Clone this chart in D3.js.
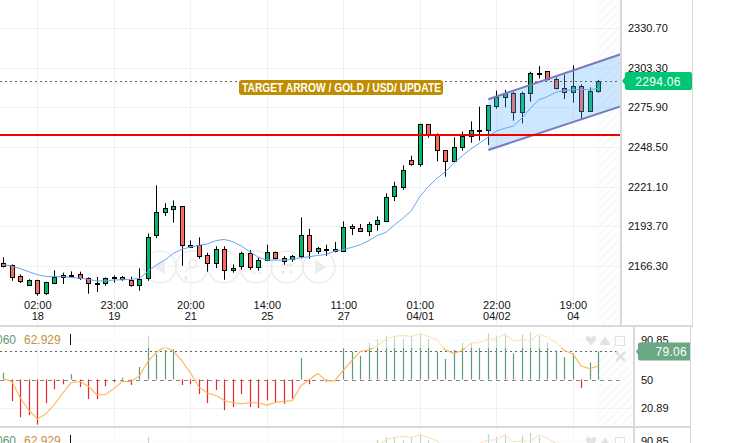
<!DOCTYPE html>
<html>
<head>
<meta charset="utf-8">
<style>
html, body { margin: 0; padding: 0; background: #fff; overflow: hidden; }
svg { display: block; }
text { font-family: "Liberation Sans", Arial, sans-serif; }
</style>
<script src="https://cdn.jsdelivr.net/npm/d3@7/dist/d3.min.js"></script>
</head>
<body>
<svg id="chart" width="742" height="443"></svg>
<script>
// candles
var opens = [2168.6,2166.7,2159.1,2152.7,2156.4,2147.2,2154.5,2158.4,2160.3,2160.5,2157.8,2154.5,2154.1,2157.5,2158.4,2156.8,2153.4,2157.5,2187.2,2203.1,2205.9,2207.5,2179.9,2181.0,2173.6,2168.1,2177.8,2163.3,2166.0,2175.0,2165.3,2170.2,2175.7,2172.0,2170.6,2172.7,2187.5,2176.2,2177.8,2176.6,2176.6,2193.7,2192.3,2190.0,2195.1,2197.6,2214.4,2220.4,2239.3,2236.3,2264.1,2257.5,2246.2,2238.4,2248.3,2255.9,2260.2,2260.0,2276.3,2282.8,2285.6,2272.4,2285.6,2299.6,2300.8,2295.2,2289.0,2286.3,2290.4,2272.9,2287.4];
var highs = [2172.3,2167.4,2160.5,2157.1,2156.8,2155.4,2163.3,2161.7,2162.6,2162.4,2158.4,2158.7,2158.4,2159.8,2159.4,2158.9,2164.7,2188.8,2222.0,2209.6,2211.6,2207.7,2184.0,2186.1,2175.5,2179.9,2179.9,2167.4,2176.2,2177.3,2172.3,2181.0,2176.2,2173.2,2173.9,2199.9,2192.1,2179.4,2181.0,2182.9,2197.1,2195.1,2195.3,2196.7,2200.6,2216.5,2224.5,2235.8,2242.5,2264.6,2264.4,2257.9,2246.4,2255.2,2259.1,2266.2,2276.3,2277.5,2287.4,2287.9,2286.7,2286.7,2300.5,2304.4,2301.0,2296.6,2298.5,2304.9,2291.8,2289.7,2294.8];
var lows = [2165.3,2156.1,2154.5,2152.5,2145.8,2146.2,2153.8,2153.8,2158.4,2156.6,2147.2,2148.3,2152.7,2154.8,2156.1,2152.0,2149.2,2156.1,2185.6,2200.8,2196.2,2166.5,2178.7,2171.3,2162.4,2164.9,2156.8,2161.7,2163.7,2163.5,2163.0,2169.7,2170.9,2167.2,2169.3,2171.6,2171.3,2174.6,2173.2,2175.7,2175.9,2187.7,2189.8,2187.0,2190.7,2196.9,2211.2,2219.0,2235.6,2234.9,2254.9,2238.6,2228.0,2238.1,2245.9,2251.5,2252.9,2249.9,2275.0,2275.9,2266.7,2264.8,2279.8,2295.9,2294.3,2288.3,2281.6,2279.1,2267.6,2272.7,2286.0];
var closes = [2166.7,2158.4,2155.4,2156.4,2147.2,2155.0,2158.4,2159.8,2160.1,2157.5,2154.1,2154.3,2157.8,2158.4,2157.1,2153.4,2157.3,2186.1,2203.4,2206.1,2207.7,2180.3,2181.0,2173.4,2168.1,2177.8,2163.3,2164.7,2175.0,2165.3,2170.2,2175.7,2171.3,2170.2,2172.9,2187.5,2176.2,2178.5,2177.6,2178.0,2193.0,2192.1,2190.0,2195.1,2197.8,2213.9,2221.3,2232.4,2236.3,2264.1,2257.5,2246.2,2238.6,2248.3,2255.9,2260.0,2260.0,2277.5,2282.8,2285.6,2272.4,2285.6,2299.4,2299.8,2295.2,2289.0,2286.3,2290.4,2272.9,2286.9,2294.06];
var movingAvg = [2167.2,2166.3,2164.4,2162.4,2160.3,2159.1,2158.9,2158.9,2158.4,2157.8,2157.1,2155.9,2156.1,2156.6,2156.8,2157.1,2157.8,2162.4,2167.0,2170.4,2175.0,2177.8,2179.4,2180.6,2181.5,2183.8,2184.7,2183.1,2180.1,2176.2,2172.3,2170.4,2170.4,2170.2,2170.9,2172.0,2172.7,2173.6,2174.3,2176.6,2177.6,2179.2,2181.0,2183.8,2187.4,2189.5,2194.6,2199.2,2204.5,2214.2,2221.1,2226.8,2231.4,2237.2,2242.5,2247.1,2251.0,2255.2,2259.5,2261.4,2263.0,2268.3,2275.2,2281.0,2283.3,2286.3,2287.4,2288.1,2288.3,2288.1,2289.0];

// indicator panel
var histValues = [57.0,27.7,11.0,13.1,3.4,25.6,39.9,45.1,55.6,42.3,29.8,29.8,43.0,47.2,52.1,44.4,62.9,95.2,76.4,80.6,81.3,44.4,45.1,35.0,25.6,39.2,18.3,21.5,35.0,21.5,20.4,28.4,26.3,24.9,30.2,72.3,45.1,50.0,47.9,50.3,82.4,78.9,74.4,88.3,91.8,95.2,95.2,91.8,95.0,98.0,91.8,78.9,71.2,80.6,88.3,87.6,82.4,98.0,95.2,97.3,77.1,96.6,99.1,95.2,88.3,79.9,73.0,77.1,41.3,67.7,79.06];
var signalValues = [50.7,47.9,31.2,18.0,9.3,14.5,24.2,36.1,46.9,47.9,43.0,34.3,34.3,40.6,47.9,47.9,53.5,68.4,78.2,83.4,79.6,69.5,57.3,42.3,36.1,33.6,28.4,26.0,24.9,26.0,26.0,23.6,26.3,27.4,28.4,43.4,50.0,56.3,48.6,48.6,59.7,69.5,78.9,80.6,84.8,92.1,94.5,95.6,94.5,97.3,94.5,91.1,80.6,77.1,79.9,87.6,88.3,91.8,92.1,97.0,90.0,91.1,90.4,97.0,93.8,88.3,79.9,76.4,63.9,61.1,63.9];

var priceTicks = [2330.70, 2303.30, 2275.90, 2248.50, 2221.10, 2193.70, 2166.30];
var indicatorTicks = [90.85, 50, 20.89];
var timeTickIndex = [4, 13, 22, 31, 40, 49, 58, 67];
var timeTickTop = ["02:00", "23:00", "20:00", "14:00", "11:00", "01:00", "22:00", "19:00"];
var timeTickBottom = ["18", "19", "21", "25", "27", "04/01", "04/02", "04"];

var lastPrice = 2294.06;
var supportPrice = 2256.8;
var lastIndicator = 79.06;
var channelUpper = [[57.06, 2281.5], [72.75, 2312.8]];
var channelLower = [[57.06, 2246.4], [72.75, 2276.8]];

var green = "#00b96b", red = "#fb6a5c", grid = "#f1f1f1", border = "#d9d9d9";

var svg = d3.select("#chart");
var defs = svg.append("defs");

var hatch = defs.append("pattern").attr("id", "hatch")
	.attr("width", 6).attr("height", 6)
	.attr("patternUnits", "userSpaceOnUse")
	.attr("patternTransform", "rotate(-45)");
hatch.append("line").attr("x1", 0).attr("x2", 6).attr("y1", 1.5).attr("y2", 1.5)
	.attr("stroke", "#f8f8f8").attr("stroke-width", 2);

defs.append("clipPath").attr("id", "mainClip").append("rect")
	.attr("x", 0).attr("y", 0).attr("width", 621).attr("height", 325);
defs.append("clipPath").attr("id", "indClip").append("rect")
	.attr("x", 0).attr("y", 328).attr("width", 633).attr("height", 98);

var x = d3.scaleLinear().domain([0, 70]).range([3.3, 598.3]);
var y = d3.scaleLinear().domain([2166.3, 2330.7]).range([266, 28]);
var yInd = d3.scaleLinear().domain([20.89, 90.85]).range([407.7, 340]);

function snap(v) { return Math.round(v) + 0.5; }

// main panel
var main = svg.append("g").attr("clip-path", "url(#mainClip)");
main.append("rect").attr("x", 597).attr("y", 0).attr("width", 24).attr("height", 325).attr("fill", "url(#hatch)");

main.selectAll(".hgrid").data(priceTicks).enter().append("line")
	.attr("x1", 0).attr("x2", 621)
	.attr("y1", function(d) { return snap(y(d)); })
	.attr("y2", function(d) { return snap(y(d)); })
	.attr("stroke", grid);
main.selectAll(".vgrid").data(timeTickIndex).enter().append("line")
	.attr("x1", function(d) { return snap(x(d)); })
	.attr("x2", function(d) { return snap(x(d)); })
	.attr("y1", 0).attr("y2", 325)
	.attr("stroke", grid);

// faint navigation buttons behind the candles
var navX = [160, 192, 224, 256, 287, 319];
var nav = main.append("g").attr("fill", "none").attr("stroke", "#ececec").attr("stroke-width", 1.5);
nav.selectAll("circle").data(navX).enter().append("circle")
	.attr("cx", function(d) { return d; }).attr("cy", 267).attr("r", 16);
nav.append("path").attr("d", "M164 261 L155 267 L164 273 Z").attr("fill", "#ececec");
nav.append("circle").attr("cx", 193).attr("cy", 264).attr("r", 4);
nav.append("path").attr("d", "M190 267 L185 272 M186 276 L186 280 M184 278 L188 278");
nav.append("path").attr("d", "M250 267 L262 267 M252 273 L256 273 M258 273 L262 273");
nav.append("path").attr("d", "M281 265 L293 265 M281 272 L285 272 M283 270 L283 274 M289 272 L293 272 M291 270 L291 274");
nav.append("path").attr("d", "M316 261 L325 267 L316 273 Z").attr("fill", "#ececec");

var candles = main.append("g");
candles.selectAll(".wick").data(closes).enter().append("line")
	.attr("x1", function(d, i) { return snap(x(i)); })
	.attr("x2", function(d, i) { return snap(x(i)); })
	.attr("y1", function(d, i) { return y(highs[i]); })
	.attr("y2", function(d, i) { return y(lows[i]); })
	.attr("stroke", "#000");
candles.selectAll(".body").data(closes).enter().append("rect")
	.attr("x", function(d, i) { return snap(x(i)) - 2; })
	.attr("y", function(d, i) { return Math.round(y(Math.max(opens[i], d))) + 0.5; })
	.attr("width", 4)
	.attr("height", function(d, i) { return Math.max(1, Math.round(Math.abs(y(opens[i]) - y(d)))); })
	.attr("fill", function(d, i) { return d >= opens[i] ? green : red; })
	.attr("stroke", "#000");

main.append("path")
	.attr("d", d3.line().x(function(d, i) { return x(i); }).y(function(d) { return y(d); })(movingAvg))
	.attr("fill", "none").attr("stroke", "#64a6f5").attr("stroke-width", 1);

// channel drawing tool
var pt = function(p) { return [x(p[0]), y(p[1])]; };
main.append("path")
	.attr("d", d3.line()(channelUpper.concat(channelLower.slice().reverse()).map(pt)))
	.attr("fill", "rgb(90,180,252)").attr("fill-opacity", 0.3);
[channelUpper, channelLower].forEach(function(c) {
	main.append("path").attr("d", d3.line()(c.map(pt)))
		.attr("fill", "none").attr("stroke", "#7a78be").attr("stroke-width", 2);
});

main.append("line").attr("x1", 0).attr("x2", 621)
	.attr("y1", Math.round(y(supportPrice))).attr("y2", Math.round(y(supportPrice)))
	.attr("stroke", "#f00000").attr("stroke-width", 2);
main.append("line").attr("x1", 0).attr("x2", 621)
	.attr("y1", snap(y(lastPrice))).attr("y2", snap(y(lastPrice)))
	.attr("stroke", "#666").attr("stroke-dasharray", "2,3");

// annotation label
main.append("rect").attr("x", 239).attr("y", 80).attr("width", 204).attr("height", 15).attr("rx", 3)
	.attr("fill", "#bf8e00");
main.append("text").attr("x", 341.5).attr("y", 92).attr("text-anchor", "middle")
	.attr("fill", "#fff").attr("font-size", 12).attr("font-weight", "bold")
	.attr("textLength", 199).attr("lengthAdjust", "spacingAndGlyphs")
	.text("TARGET ARROW / GOLD / USD/ UPDATE");

// axes of the main panel
var yAxis = d3.axisRight(y).tickValues(priceTicks).tickSize(0).tickPadding(0)
	.tickFormat(d3.format(".2f"));
var yAxisG = svg.append("g").attr("transform", "translate(628,0)").call(yAxis);
yAxisG.select(".domain").remove();
yAxisG.selectAll("text").attr("font-size", 11).attr("fill", "#111")
	.style("font-family", '"Liberation Sans", Arial, sans-serif');

var xTick = d3.scaleOrdinal().domain(timeTickIndex).range(timeTickTop);
var xAxis = d3.axisBottom(x).tickValues(timeTickIndex).tickSize(0).tickPadding(0)
	.tickFormat(function(d) { return xTick(d); });
var xAxisG = svg.append("g").attr("transform", "translate(0,301)").call(xAxis);
xAxisG.select(".domain").remove();
xAxisG.selectAll("text").attr("font-size", 11).attr("fill", "#111")
	.style("font-family", '"Liberation Sans", Arial, sans-serif')
	.each(function(d, i) {
		d3.select(this).append("tspan").attr("x", 0).attr("dy", "1em").text(timeTickBottom[i]);
	});

// last price tag
var tagY = y(lastPrice);
svg.append("path")
	.attr("d", "M622 " + tagY + " L625 " + (tagY - 4) + " L625 " + (tagY - 7) + " Q625 " + (tagY - 9) + " 627 " + (tagY - 9) +
		" L690 " + (tagY - 9) + " Q692 " + (tagY - 9) + " 692 " + (tagY - 7) + " L692 " + (tagY + 7) + " Q692 " + (tagY + 9) + " 690 " + (tagY + 9) +
		" L627 " + (tagY + 9) + " Q625 " + (tagY + 9) + " 625 " + (tagY + 7) + " L625 " + (tagY + 4) + " Z")
	.attr("fill", "#00c674");
svg.append("text").attr("x", 658).attr("y", tagY + 4.5).attr("text-anchor", "middle")
	.attr("fill", "#fff").attr("font-size", 12).attr("letter-spacing", 0.3)
	.text(d3.format(".2f")(lastPrice));

// indicator panel, drawn once per pane
function drawIndicator(offset) {
	var pane = svg.append("g").attr("transform", "translate(0," + offset + ")");
	var g = pane.append("g").attr("clip-path", "url(#indClip)");

	g.append("rect").attr("x", 597).attr("y", 328).attr("width", 36).attr("height", 98).attr("fill", "url(#hatch)");
	g.selectAll(".hgrid").data([indicatorTicks[0], indicatorTicks[2]]).enter().append("line")
		.attr("x1", 0).attr("x2", 633)
		.attr("y1", function(d) { return snap(yInd(d)); })
		.attr("y2", function(d) { return snap(yInd(d)); })
		.attr("stroke", grid);
	g.selectAll(".vgrid").data(timeTickIndex).enter().append("line")
		.attr("x1", function(d) { return snap(x(d)); })
		.attr("x2", function(d) { return snap(x(d)); })
		.attr("y1", 328).attr("y2", 426)
		.attr("stroke", grid);

	g.append("line").attr("x1", 0).attr("x2", 623)
		.attr("y1", snap(yInd(50))).attr("y2", snap(yInd(50)))
		.attr("stroke", "#888").attr("stroke-dasharray", "4,4");
	g.append("line").attr("x1", 0).attr("x2", 618)
		.attr("y1", snap(yInd(lastIndicator))).attr("y2", snap(yInd(lastIndicator)))
		.attr("stroke", "#666").attr("stroke-dasharray", "2,3");

	g.selectAll(".bar").data(histValues).enter().append("line")
		.attr("x1", function(d, i) { return snap(x(i)); })
		.attr("x2", function(d, i) { return snap(x(i)); })
		.attr("y1", yInd(50))
		.attr("y2", function(d) { return yInd(d); })
		.attr("stroke", function(d) { return d >= 50 ? "#5c9c78" : "#e8262c"; })
		.attr("stroke-width", 1.2);

	g.append("path")
		.attr("d", d3.line().x(function(d, i) { return x(i); }).y(function(d) { return yInd(d); })(signalValues))
		.attr("fill", "none").attr("stroke", "#fbb450").attr("stroke-width", 1.1);

	// the top of the pane is washed out by the title strip
	g.append("rect").attr("x", 0).attr("y", 328).attr("width", 633).attr("height", 20)
		.attr("fill", "#fff").attr("fill-opacity", 0.6);

	g.append("text").attr("x", 16).attr("y", 344).attr("text-anchor", "end")
		.attr("fill", "#5f9a78").attr("font-size", 12).text("060");
	g.append("text").attr("x", 24).attr("y", 344)
		.attr("fill", "#c8913c").attr("font-size", 12).text("62.929");
	g.append("line").attr("x1", 70.5).attr("x2", 70.5).attr("y1", 334).attr("y2", 345).attr("stroke", "#111");

	// pane buttons
	var icons = g.append("g").attr("fill", "#e2e2e2");
	icons.append("path").attr("d", "M591 345 L586 340 Q585 336 588 336 Q590 336 591 338 Q592 336 594 336 Q597 336 596 340 Z");
	icons.append("path").attr("d", "M600 345 Q600 342 602 341 L605 336 L608 341 Q610 342 610 345 Z");
	icons.append("rect").attr("x", 615.5).attr("y", 336.5).attr("width", 9).attr("height", 9)
		.attr("fill", "none").attr("stroke", "#e2e2e2");
	icons.append("path").attr("d", "M616 352 L625 361 M625 352 L616 361")
		.attr("fill", "none").attr("stroke", "#e2e2e2").attr("stroke-width", 2.5);

	var axis = d3.axisRight(yInd).tickValues(indicatorTicks).tickSize(0).tickPadding(0)
		.tickFormat(function(d) { return String(d); });
	var axisG = pane.append("g").attr("transform", "translate(641,0)").call(axis);
	axisG.select(".domain").remove();
	axisG.selectAll("text").attr("font-size", 11).attr("fill", "#111")
		.style("font-family", '"Liberation Sans", Arial, sans-serif');
	return yInd(lastIndicator);
}

drawIndicator(101);
var indTagY = drawIndicator(0);

// indicator value tag sits on the first pane
svg.append("path")
	.attr("d", "M636 " + indTagY + " L638 " + (indTagY - 3) + " L638 " + (indTagY - 7) + " Q638 " + (indTagY - 9) + " 640 " + (indTagY - 9) +
		" L690 " + (indTagY - 9) + " L690 " + (indTagY + 9) + " L640 " + (indTagY + 9) + " Q638 " + (indTagY + 9) + " 638 " + (indTagY + 7) +
		" L638 " + (indTagY + 3) + " Z")
	.attr("fill", "#6aa884");
svg.append("text").attr("x", 687).attr("y", indTagY + 4.5).attr("text-anchor", "end")
	.attr("fill", "#fff").attr("font-size", 12).attr("letter-spacing", 0.3)
	.text(lastIndicator.toFixed(2));

// pane borders
var borders = svg.append("g").attr("stroke", border).attr("fill", "none");
borders.append("line").attr("x1", 621).attr("x2", 621).attr("y1", 0).attr("y2", 325).attr("stroke-width", 2);
borders.append("line").attr("x1", 692.5).attr("x2", 692.5).attr("y1", 0).attr("y2", 326);
borders.append("line").attr("x1", 0).attr("x2", 693).attr("y1", 326).attr("y2", 326).attr("stroke-width", 2);
borders.append("line").attr("x1", 0).attr("x2", 691).attr("y1", 427).attr("y2", 427).attr("stroke-width", 2);
borders.append("line").attr("x1", 634).attr("x2", 634).attr("y1", 326).attr("y2", 443).attr("stroke-width", 2);
borders.append("line").attr("x1", 690.5).attr("x2", 690.5).attr("y1", 326).attr("y2", 443);
</script>
</body>
</html>
